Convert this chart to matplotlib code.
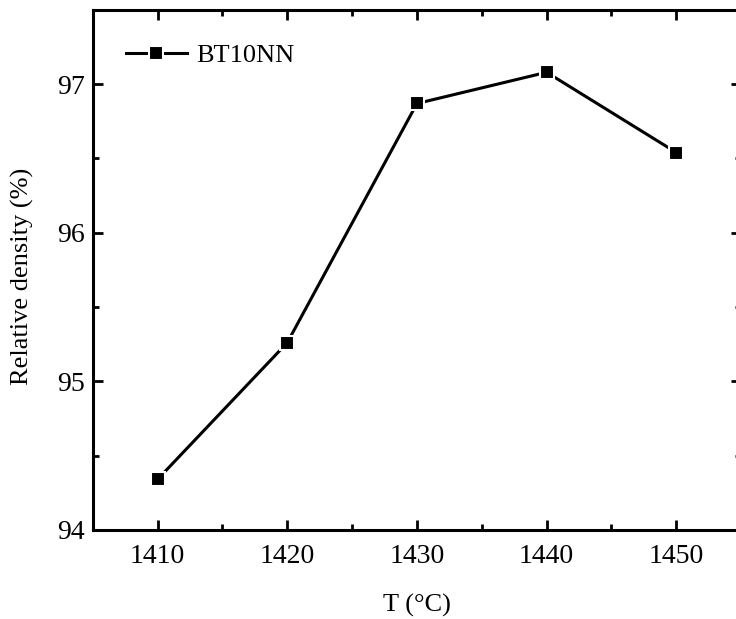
import matplotlib
matplotlib.use("Agg")
import matplotlib.pyplot as plt
from matplotlib.ticker import MultipleLocator

temperature = [1410, 1420, 1430, 1440, 1450]
density = [94.34, 95.26, 96.87, 97.08, 96.54]
series_label = "BT10NN"

plt.rcParams['font.family'] = ['Liberation Serif', 'DejaVu Serif']
plt.rcParams['mathtext.fontset'] = 'stix'


def plot_graph():
    fig = plt.figure(figsize=(7.36, 6.19), dpi=100)
    ax = fig.add_axes([0.126, 0.144, 0.881, 0.840])

    # white marker edge leaves a small gap between line and squares
    ax.plot(temperature, density, color='black', linewidth=2.2,
            marker='s', markersize=10, markerfacecolor='black',
            markeredgecolor='white', markeredgewidth=1.5, label=series_label)

    ax.set_xlim(1405, 1455)
    ax.set_ylim(94, 97.5)
    ax.xaxis.set_major_locator(MultipleLocator(10))
    ax.xaxis.set_minor_locator(MultipleLocator(5))
    ax.yaxis.set_major_locator(MultipleLocator(1))
    ax.yaxis.set_minor_locator(MultipleLocator(0.5))

    ax.tick_params(which='both', direction='in', top=True, right=True, width=2)
    ax.tick_params(which='major', length=7, labelsize=20)
    ax.tick_params(axis='x', which='major', pad=10)
    ax.tick_params(axis='y', which='major', pad=6)
    ax.tick_params(which='minor', length=4)
    for spine in ax.spines.values():
        spine.set_linewidth(2.2)

    ax.set_xlabel("T (°C)", fontsize=19, labelpad=18)
    ax.set_ylabel("Relative density (%)", fontsize=19)
    ax.yaxis.set_label_coords(-0.09, 0.487)

    ax.legend(loc='upper left', frameon=False, fontsize=19,
              handlelength=2.3, handletextpad=0.35, borderaxespad=0.0,
              bbox_to_anchor=(0.035, 0.955))

    fig.savefig("out.png", dpi=100)


def main():
    plot_graph()


if __name__ == "__main__":
    main()
